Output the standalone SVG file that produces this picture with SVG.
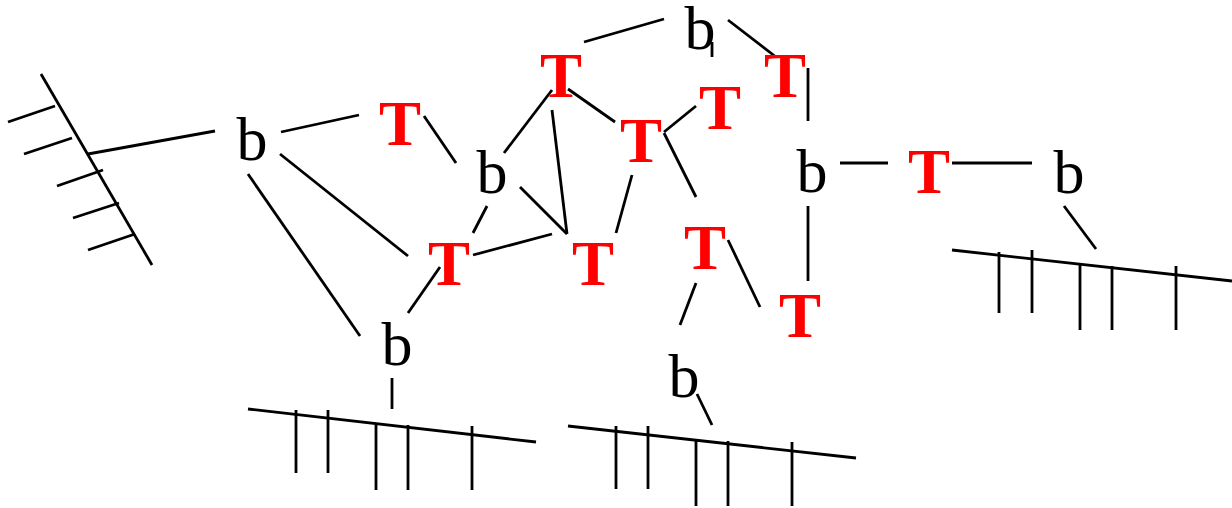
<svg xmlns="http://www.w3.org/2000/svg" width="1232" height="508" viewBox="0 0 1232 508">
<style>
.b{font-family:"Liberation Serif","Times New Roman",serif;font-size:62px;fill:#000;text-anchor:middle}
.t{font-family:"Liberation Serif","Times New Roman",serif;font-size:63px;font-weight:bold;fill:#ff0000;text-anchor:middle}
#connectors line{stroke:#000;stroke-width:2.8;stroke-linecap:butt}
</style>
<rect width="1232" height="508" fill="#fff"/>
<g id="connectors">
<line x1="41" y1="74" x2="152" y2="265"/>
<line x1="8" y1="122" x2="55" y2="106"/>
<line x1="24" y1="154" x2="72" y2="138"/>
<line x1="57" y1="186" x2="103" y2="170"/>
<line x1="73" y1="218" x2="119" y2="203"/>
<line x1="88" y1="250" x2="135" y2="234"/>
<line x1="88" y1="154" x2="215" y2="131"/>
<line x1="281" y1="132" x2="359" y2="115"/>
<line x1="424" y1="116" x2="456" y2="163"/>
<line x1="280" y1="154" x2="408" y2="256"/>
<line x1="248" y1="174" x2="360" y2="336"/>
<line x1="487" y1="206" x2="473" y2="233"/>
<line x1="440" y1="267" x2="408" y2="313"/>
<line x1="473" y1="255" x2="552" y2="234"/>
<line x1="520" y1="187" x2="567" y2="234"/>
<line x1="552" y1="110" x2="567" y2="234"/>
<line x1="504" y1="153" x2="552" y2="90"/>
<line x1="568" y1="89" x2="615" y2="122"/>
<line x1="632" y1="175" x2="616" y2="233"/>
<line x1="584" y1="42" x2="664" y2="19"/>
<line x1="712" y1="42" x2="712" y2="57"/>
<line x1="728" y1="20" x2="776" y2="57"/>
<line x1="808" y1="68" x2="808" y2="121"/>
<line x1="664" y1="132" x2="696" y2="106"/>
<line x1="664" y1="133" x2="696" y2="197"/>
<line x1="728" y1="240" x2="760" y2="307"/>
<line x1="696" y1="283" x2="680" y2="325"/>
<line x1="808" y1="206" x2="808" y2="281"/>
<line x1="697" y1="394" x2="712" y2="425"/>
<line x1="840" y1="163" x2="888" y2="163"/>
<line x1="952" y1="163" x2="1032" y2="163"/>
<line x1="1064" y1="206" x2="1096" y2="249"/>
<line x1="952" y1="250" x2="1232" y2="281"/>
<line x1="999" y1="252" x2="999" y2="313"/>
<line x1="1032" y1="250" x2="1032" y2="313"/>
<line x1="1080" y1="265" x2="1080" y2="330"/>
<line x1="1112" y1="266" x2="1112" y2="330"/>
<line x1="1176" y1="266" x2="1176" y2="330"/>
<line x1="392" y1="378" x2="392" y2="409"/>
<line x1="248" y1="409" x2="536" y2="442"/>
<line x1="296" y1="410" x2="296" y2="473"/>
<line x1="328" y1="410" x2="328" y2="473"/>
<line x1="376" y1="425" x2="376" y2="490"/>
<line x1="408" y1="425" x2="408" y2="490"/>
<line x1="472" y1="426" x2="472" y2="490"/>
<line x1="568" y1="426" x2="856" y2="458"/>
<line x1="616" y1="426" x2="616" y2="489"/>
<line x1="648" y1="426" x2="648" y2="489"/>
<line x1="696" y1="441" x2="696" y2="506"/>
<line x1="728" y1="441" x2="728" y2="506"/>
<line x1="792" y1="442" x2="792" y2="506"/>
</g>
<g id="b1"><text class="b" x="252" y="160">b</text></g>
<g id="T1"><text class="t" x="400" y="145">T</text></g>
<g id="b2"><text class="b" x="492" y="193">b</text></g>
<g id="T2"><text class="t" x="561" y="97">T</text></g>
<g id="T5"><text class="t" x="641" y="162">T</text></g>
<g id="T7"><text class="t" x="720" y="129">T</text></g>
<g id="b4"><text class="b" x="700" y="49">b</text></g>
<g id="T6"><text class="t" x="785" y="97">T</text></g>
<g id="b5"><text class="b" x="812" y="192">b</text></g>
<g id="T10"><text class="t" x="929" y="193">T</text></g>
<g id="b7"><text class="b" x="1069" y="193">b</text></g>
<g id="T3"><text class="t" x="449" y="285">T</text></g>
<g id="T4"><text class="t" x="593" y="285">T</text></g>
<g id="T8"><text class="t" x="705" y="269">T</text></g>
<g id="T9"><text class="t" x="800" y="337">T</text></g>
<g id="b3"><text class="b" x="397" y="365">b</text></g>
<g id="b6"><text class="b" x="684" y="397">b</text></g>
</svg>
